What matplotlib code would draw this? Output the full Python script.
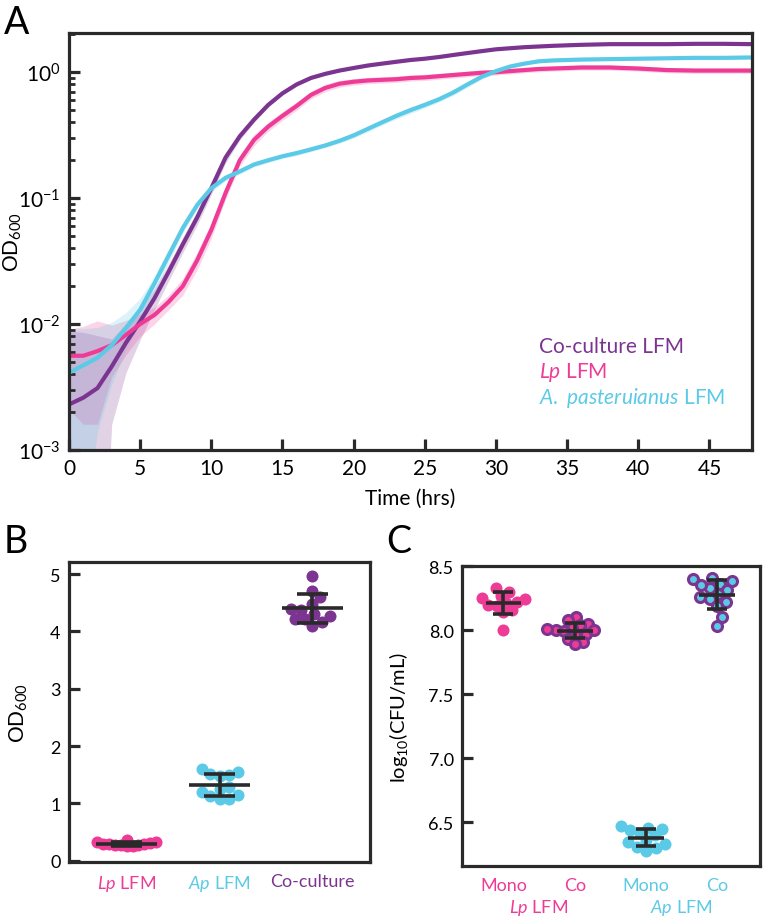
import numpy as np
import matplotlib.pyplot as plt

plt.rcParams['font.family'] = ['Lato', 'DejaVu Sans']
plt.rcParams['mathtext.fontset'] = 'custom'
plt.rcParams['mathtext.rm'] = 'Lato'
plt.rcParams['mathtext.it'] = 'Lato:italic'
plt.rcParams['mathtext.bf'] = 'Lato:bold'

PURPLE = '#7B3590'
PINK = '#EE3C96'
CYAN = '#5BCAE6'
DARK = '#2a2a2a'

# ---- panel A: growth curves (OD600 mean and sd) ----
hours = [0, 1, 2, 3, 4, 5, 6, 7, 8, 9, 10, 11, 12, 13, 14, 15, 16, 17, 18, 19,
         20, 21, 22, 23, 24, 25, 26, 27, 28, 29, 30, 31, 32, 33, 34,
         36, 38, 40, 42, 44, 46, 48]
co_od = [0.0023, 0.0026, 0.0031, 0.0046, 0.0071, 0.0105, 0.016, 0.026, 0.043, 0.070,
         0.12, 0.21, 0.31, 0.42, 0.55, 0.68, 0.80, 0.90, 0.97, 1.03,
         1.08, 1.13, 1.17, 1.21, 1.25, 1.28, 1.32, 1.37, 1.42, 1.47, 1.52, 1.55, 1.58, 1.60, 1.62,
         1.65, 1.67, 1.67, 1.67, 1.68, 1.68, 1.67]
co_sd = [0.0065, 0.006, 0.005, 0.003, 0.003, 0.003, 0.003, 0.004, 0.006, 0.009,
         0.013, 0.02, 0.02, 0.02, 0.02, 0.02, 0.02, 0.02, 0.02, 0.02,
         0.02, 0.02, 0.02, 0.02, 0.02, 0.02, 0.02, 0.02, 0.02, 0.02, 0.02, 0.02, 0.02, 0.02, 0.02,
         0.02, 0.02, 0.02, 0.02, 0.02, 0.02, 0.02]
lp_od = [0.0056, 0.0056, 0.0061, 0.0068, 0.0082, 0.010, 0.0118, 0.015, 0.020, 0.032,
         0.056, 0.11, 0.20, 0.29, 0.37, 0.45, 0.54, 0.66, 0.75, 0.81,
         0.84, 0.86, 0.87, 0.88, 0.90, 0.91, 0.93, 0.95, 0.97, 0.99, 1.00, 1.02, 1.04, 1.06, 1.07,
         1.09, 1.09, 1.07, 1.04, 1.03, 1.03, 1.03]
lp_sd = [0.0035, 0.004, 0.0045, 0.003, 0.0025, 0.002, 0.0018, 0.002, 0.003, 0.005,
         0.008, 0.012, 0.02, 0.03, 0.03, 0.035, 0.04, 0.045, 0.05, 0.05,
         0.05, 0.05, 0.05, 0.05, 0.05, 0.05, 0.05, 0.05, 0.05, 0.05, 0.05, 0.05, 0.05, 0.05, 0.05,
         0.05, 0.05, 0.05, 0.05, 0.05, 0.05, 0.05]
ap_od = [0.0041, 0.0047, 0.0054, 0.0068, 0.0093, 0.013, 0.021, 0.035, 0.058, 0.088,
         0.12, 0.145, 0.163, 0.185, 0.20, 0.215, 0.228, 0.244, 0.262, 0.285,
         0.315, 0.355, 0.40, 0.45, 0.50, 0.55, 0.61, 0.69, 0.80, 0.92, 1.02, 1.11, 1.17, 1.22, 1.24,
         1.26, 1.27, 1.28, 1.29, 1.30, 1.30, 1.31]
ap_sd = [0.005, 0.0045, 0.004, 0.0035, 0.003, 0.003, 0.003, 0.004, 0.005, 0.006,
         0.008, 0.008, 0.008, 0.008, 0.008, 0.008, 0.01, 0.01, 0.01, 0.012,
         0.015, 0.018, 0.02, 0.025, 0.03, 0.03, 0.03, 0.035, 0.04, 0.04, 0.04, 0.035, 0.03, 0.03, 0.03,
         0.03, 0.03, 0.03, 0.03, 0.03, 0.03, 0.03]

# ---- panel B: final OD600 ----
b_labels = [r'$\mathit{Lp}$ LFM', r'$\mathit{Ap}$ LFM', 'Co-culture']
b_lp = [0.32, 0.27, 0.26, 0.30, 0.37, 0.29, 0.27, 0.31, 0.33, 0.25, 0.28, 0.30]
b_ap = [1.49, 1.60, 1.52, 1.25, 1.08, 1.13, 1.20, 1.08, 1.48, 1.29, 1.55, 1.15]
b_co = [4.97, 4.71, 4.60, 4.39, 4.38, 4.22, 4.16, 4.10, 4.22, 4.27, 4.48, 4.30]

# ---- panel C: log10 CFU/mL ----
c_labels = ['Mono', 'Co', 'Mono', 'Co']
c_groups = [r'$\mathit{Lp}$ LFM', r'$\mathit{Ap}$ LFM']
c_lp_mono = [8.33, 8.30, 8.27, 8.24, 8.22, 8.20, 8.19, 8.16, 8.14, 8.00, 8.25, 8.21]
c_lp_co = [8.10, 8.08, 8.05, 8.04, 8.02, 8.00, 7.99, 7.97, 7.96, 7.93, 7.91, 7.89, 8.00, 8.01]
c_ap_mono = [6.47, 6.46, 6.45, 6.44, 6.40, 6.36, 6.33, 6.31, 6.30, 6.28, 6.35, 6.42]
c_ap_co = [8.41, 8.40, 8.38, 8.36, 8.33, 8.31, 8.28, 8.26, 8.24, 8.22, 8.19, 8.10, 8.03, 8.35]


def swarm_x(ax, vals, xc, d_px):
    # simple beeswarm: place each point as close to centre as possible
    px_per_x = ax.transData.transform((1, 0))[0] - ax.transData.transform((0, 0))[0]
    ys = [ax.transData.transform((0, v))[1] for v in vals]
    order = np.argsort(ys)
    placed = []
    xs = np.zeros(len(vals))
    for i in order:
        y = ys[i]
        cands = [0.0]
        for (px, py) in placed:
            dy = abs(y - py)
            if dy < d_px:
                dx = np.sqrt(d_px ** 2 - dy ** 2)
                cands += [px + dx, px - dx]
        cands.sort(key=abs)
        for c in cands:
            if all((c - px) ** 2 + (y - py) ** 2 >= d_px ** 2 - 1e-6 for (px, py) in placed):
                xs[i] = c
                placed.append((c, y))
                break
    return xc + xs / px_per_x


def style_box(ax):
    for s in ax.spines.values():
        s.set_linewidth(2.3)
        s.set_color(DARK)


def mean_sd(ax, vals, xc, half_mean, half_cap):
    m = np.mean(vals)
    sd = np.std(vals, ddof=1)
    ax.vlines(xc, m - sd, m + sd, color=DARK, lw=2.6, zorder=5)
    ax.hlines(m, xc - half_mean, xc + half_mean, color=DARK, lw=2.6, zorder=5)
    ax.hlines([m - sd, m + sd], xc - half_cap, xc + half_cap, color=DARK, lw=2.6, zorder=5)


fig = plt.figure(figsize=(7.65, 9.2), dpi=100)

# ---------- A ----------
axA = fig.add_axes([0.0902, 0.5098, 0.893, 0.4533])
t = np.array(hours)
for od, sd, col in [(co_od, co_sd, PURPLE), (lp_od, lp_sd, PINK), (ap_od, ap_sd, CYAN)]:
    od = np.array(od)
    sd = np.array(sd)
    axA.fill_between(t, np.clip(od - sd, 1e-5, None), od + sd, color=col, alpha=0.22, lw=0)
for od, col in [(co_od, PURPLE), (lp_od, PINK), (ap_od, CYAN)]:
    axA.plot(t, od, color=col, lw=3, solid_joinstyle='round', solid_capstyle='round')
axA.set_yscale('log')
axA.set_xlim(0, 48)
axA.set_ylim(1e-3, 2.05)
axA.set_xticks([0, 5, 10, 15, 20, 25, 30, 35, 40, 45])
axA.tick_params(axis='both', which='major', direction='in', length=8, width=2.3,
                labelsize=15, color=DARK, pad=6)
axA.tick_params(axis='y', which='minor', direction='in', length=4.5, width=2.0, color=DARK)
axA.tick_params(axis='x', which='minor', bottom=False)
style_box(axA)
axA.set_xlabel('Time (hrs)', fontsize=15)
axA.set_ylabel('OD$_{600}$', fontsize=15)
axA.xaxis.set_label_coords(0.5, -0.09)
axA.yaxis.set_label_coords(-0.066, 0.5)
axA.text(0.688, 0.249, 'Co-culture LFM', color=PURPLE, fontsize=15,
         transform=axA.transAxes, va='center')
axA.text(0.688, 0.187, r'$\mathit{Lp}$ LFM', color=PINK, fontsize=15,
         transform=axA.transAxes, va='center')
axA.text(0.688, 0.127, r'$\mathit{A.\ pasteruianus}$ LFM', color=CYAN, fontsize=15,
         transform=axA.transAxes, va='center')

# ---------- B ----------
axB = fig.add_axes([0.0902, 0.062, 0.3935, 0.326])
axB.set_xlim(-0.62, 2.62)
axB.set_ylim(-0.02, 5.21)
for i, (vals, col, d) in enumerate([(b_lp, PINK, 6), (b_ap, CYAN, 9.5), (b_co, PURPLE, 10)]):
    xs = swarm_x(axB, vals, i, d)
    axB.scatter(xs, vals, s=75, color=col, lw=0, zorder=3)
    mean_sd(axB, vals, i, 0.33, 0.17)
axB.set_xticks([0, 1, 2])
axB.set_xticklabels(b_labels)
for lab, col in zip(axB.get_xticklabels(), [PINK, CYAN, PURPLE]):
    lab.set_color(col)
axB.set_yticks([0, 1, 2, 3, 4, 5])
axB.tick_params(axis='x', length=0, labelsize=13, pad=8)
axB.tick_params(axis='y', direction='in', length=8, width=2.3, labelsize=13, color=DARK, pad=6)
style_box(axB)
axB.set_ylabel('OD$_{600}$', fontsize=15)
axB.yaxis.set_label_coords(-0.13, 0.5)

# ---------- C ----------
axC = fig.add_axes([0.604, 0.0576, 0.3895, 0.326])
axC.set_xlim(-0.58, 3.6)
axC.set_ylim(6.16, 8.5)
c_sets = [(c_lp_mono, PINK, PINK, 9), (c_lp_co, PINK, PURPLE, 8.5),
          (c_ap_mono, CYAN, CYAN, 10), (c_ap_co, CYAN, PURPLE, 10)]
for i, (vals, fc, ec, d) in enumerate(c_sets):
    xs = swarm_x(axC, vals, i, d)
    if fc == ec:
        axC.scatter(xs, vals, s=75, color=fc, lw=0, zorder=3)
    else:
        axC.scatter(xs, vals, s=52, color=fc, edgecolors=ec, lw=2.2, zorder=3)
    mean_sd(axC, vals, i, 0.25, 0.14)
axC.set_xticks([0, 1, 2, 3])
axC.set_xticklabels(c_labels)
for lab, col in zip(axC.get_xticklabels(), [PINK, PINK, CYAN, CYAN]):
    lab.set_color(col)
axC.set_yticks([6.5, 7.0, 7.5, 8.0, 8.5])
axC.set_yticklabels(['6.5', '7.0', '7.5', '8.0', '8.5'])
axC.tick_params(axis='x', length=0, labelsize=13, pad=8)
axC.tick_params(axis='y', direction='in', length=8, width=2.3, labelsize=13, color=DARK, pad=6)
style_box(axC)
axC.set_ylabel('log$_{10}$(CFU/mL)', fontsize=14.5)
axC.yaxis.set_label_coords(-0.175, 0.5)
for gx, g, col in [(0.5, c_groups[0], PINK), (2.5, c_groups[1], CYAN)]:
    axC.text(gx, -0.137, g, color=col, fontsize=13, ha='center', va='center',
             transform=axC.get_xaxis_transform())

# panel letters
fig.text(0.005, 0.995, 'A', fontsize=27, va='top', ha='left')
fig.text(0.005, 0.43, 'B', fontsize=27, va='top', ha='left')
fig.text(0.505, 0.43, 'C', fontsize=27, va='top', ha='left')

fig.savefig('out.png', dpi=100)
